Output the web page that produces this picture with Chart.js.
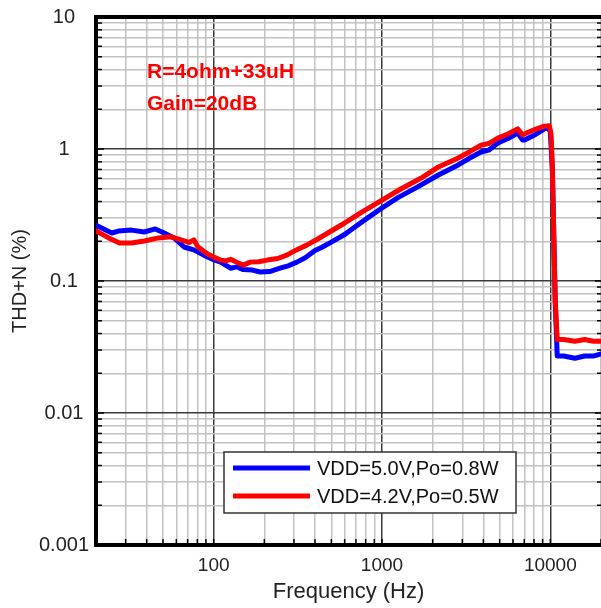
<!DOCTYPE html>
<html>
<head>
<meta charset="utf-8">
<script src="https://cdn.jsdelivr.net/npm/chart.js@4.4.0/dist/chart.umd.min.js"></script>
<style>
  body { margin: 0; background: #fff; }
  #wrap { width: 601px; height: 608px; }
</style>
</head>
<body>
<div id="wrap"><canvas id="myChart" width="601" height="608"></canvas></div>
<script>
// series labels
var seriesNames = ["VDD=5.0V,Po=0.8W", "VDD=4.2V,Po=0.5W"];
var notes = ["R=4ohm+33uH", "Gain=20dB"];

// VDD=5.0V (blue)
var freqBlue = [20, 24.8, 27.2, 32.5, 38.7, 45, 50.8, 58.2, 66.7, 76.2, 87.3, 100, 110, 126, 138, 150, 170, 189, 215, 248, 280, 312, 350, 400, 440, 500, 600, 700, 850, 1000, 1250, 1600, 2163, 2837, 3300, 3875, 4300, 4878, 5600, 6396, 6846, 7032, 8000, 9221, 9700, 10000, 10280, 10690, 10990, 12000, 14000, 16000, 18000, 20000];
var thdBlue = [0.265, 0.231, 0.239, 0.243, 0.235, 0.248, 0.231, 0.212, 0.181, 0.172, 0.157, 0.145, 0.139, 0.125, 0.128, 0.122, 0.121, 0.117, 0.118, 0.125, 0.131, 0.139, 0.15, 0.17, 0.18, 0.197, 0.225, 0.26, 0.31, 0.357, 0.43, 0.51, 0.635, 0.757, 0.85, 0.949, 0.98, 1.11, 1.2, 1.32, 1.17, 1.17, 1.27, 1.42, 1.44, 1.35, 0.7, 0.07, 0.027, 0.027, 0.026, 0.027, 0.027, 0.028];

// VDD=4.2V (red)
var freqRed = [20, 23.8, 27.6, 32.5, 38.7, 46.9, 55.8, 64, 71.3, 76.2, 80.5, 87.3, 92.2, 100, 110, 118, 126, 138, 150, 165, 185, 208, 240, 272, 310, 357, 420, 488, 600, 750, 1000, 1300, 1700, 2163, 2837, 3300, 3875, 4300, 4878, 5600, 6396, 6846, 7500, 8300, 9221, 9863, 10100, 10280, 10690, 10990, 12000, 14000, 16000, 18000, 20000];
var thdRed = [0.24, 0.212, 0.194, 0.194, 0.201, 0.212, 0.216, 0.205, 0.196, 0.205, 0.182, 0.168, 0.16, 0.152, 0.144, 0.142, 0.146, 0.138, 0.132, 0.139, 0.14, 0.144, 0.148, 0.157, 0.172, 0.187, 0.21, 0.235, 0.275, 0.33, 0.41, 0.5, 0.6, 0.731, 0.855, 0.95, 1.07, 1.1, 1.21, 1.3, 1.42, 1.28, 1.35, 1.42, 1.49, 1.5, 1.3, 0.73, 0.072, 0.036, 0.036, 0.035, 0.036, 0.035, 0.035];

var xMin = 20, xMax = 20000;
var yMin = 0.001, yMax = 10;

function pts(xs, ys) {
  var out = [];
  for (var i = 0; i < xs.length; i++) out.push({x: xs[i], y: ys[i]});
  return out;
}

function isDecade(v) {
  var l = Math.log10(v);
  return Math.abs(l - Math.round(l)) < 1e-9;
}

// 1..9 x 10^n ticks between min and max
function logTicks(min, max) {
  var t = [];
  for (var e = Math.floor(Math.log10(min)); e <= Math.ceil(Math.log10(max)); e++) {
    for (var k = 1; k <= 9; k++) {
      var v = Number((k * Math.pow(10, e)).toPrecision(6));
      if (v >= min * 0.9999 && v <= max * 1.0001) t.push({value: v});
    }
  }
  return t;
}

var FONT = "'Liberation Sans', Arial, sans-serif";

var framePlugin = {
  id: 'frame',
  afterDatasetsDraw: function(chart) {
    var ctx = chart.ctx, a = chart.chartArea;
    var xs = chart.scales.x, ys = chart.scales.y;
    ctx.save();
    // inward tick marks
    ctx.strokeStyle = '#000';
    ctx.lineWidth = 1.5;
    ys.ticks.forEach(function(t) {
      var y = ys.getPixelForValue(t.value);
      var len = isDecade(t.value) ? 6 : 4;
      ctx.beginPath(); ctx.moveTo(a.left, y); ctx.lineTo(a.left + len + 2, y); ctx.stroke();
      ctx.beginPath(); ctx.moveTo(a.right, y); ctx.lineTo(a.right - len, y); ctx.stroke();
    });
    xs.ticks.forEach(function(t) {
      var x = xs.getPixelForValue(t.value);
      ctx.beginPath(); ctx.moveTo(x, a.bottom); ctx.lineTo(x, a.bottom - 6); ctx.stroke();
    });
    // top border
    ctx.lineWidth = 4;
    ctx.beginPath(); ctx.moveTo(a.left - 2, a.top); ctx.lineTo(a.right, a.top); ctx.stroke();

    // legend box
    var bx = 224, by = 452, bw = 292, bh = 61;
    ctx.fillStyle = '#fff';
    ctx.fillRect(bx, by, bw, bh);
    ctx.strokeStyle = '#333';
    ctx.lineWidth = 1.5;
    ctx.strokeRect(bx, by, bw, bh);
    ctx.font = '20px ' + FONT;
    ctx.textBaseline = 'middle';
    chart.data.datasets.forEach(function(ds, i) {
      var ly = by + 16 + i * 28;
      ctx.strokeStyle = ds.borderColor;
      ctx.lineWidth = 5;
      ctx.beginPath(); ctx.moveTo(bx + 9, ly); ctx.lineTo(bx + 86, ly); ctx.stroke();
      ctx.fillStyle = '#111';
      ctx.fillText(ds.label, bx + 93, ly + 1);
    });

    // notes
    ctx.fillStyle = '#ff0000';
    ctx.font = 'bold 21px ' + FONT;
    ctx.fillText(notes[0], 147, 72);
    ctx.fillText(notes[1], 147, 104);
    ctx.restore();
  }
};

var ctx = document.getElementById('myChart').getContext('2d');
var chart = new Chart(ctx, {
  type: 'line',
  data: {
    datasets: [{
      label: seriesNames[0],
      data: pts(freqBlue, thdBlue),
      borderColor: '#0000ff',
      borderWidth: 5,
      order: 1
    }, {
      label: seriesNames[1],
      data: pts(freqRed, thdRed),
      borderColor: '#ff0000',
      borderWidth: 5,
      order: 0
    }]
  },
  options: {
    responsive: false,
    animation: false,
    events: [],
    layout: { padding: { top: 17, right: 0, left: 0, bottom: 0 } },
    elements: {
      point: { radius: 0 },
      line: { tension: 0, borderJoinStyle: 'round', borderCapStyle: 'round' }
    },
    plugins: {
      legend: { display: false },
      tooltip: { enabled: false }
    },
    scales: {
      x: {
        type: 'logarithmic',
        min: xMin,
        max: xMax,
        afterBuildTicks: function(s) { s.ticks = logTicks(xMin, xMax); },
        afterFit: function(s) { s.height = 63; s.paddingLeft = 0; s.paddingRight = 0; },
        border: { color: '#000', width: 4 },
        grid: {
          drawTicks: false,
          lineWidth: 1.5,
          color: function(c) { return c.tick && isDecade(c.tick.value) ? '#3a3a3a' : '#c2c2c2'; }
        },
        ticks: {
          autoSkip: false,
          maxRotation: 0,
          padding: 9,
          color: '#222',
          font: { family: FONT, size: 19 },
          callback: function(v) { return isDecade(v) ? String(v) : ''; }
        },
        title: {
          display: true,
          text: 'Frequency (Hz)',
          color: '#222',
          font: { family: FONT, size: 22 },
          padding: { top: 0, bottom: 3 }
        }
      },
      y: {
        type: 'logarithmic',
        min: yMin,
        max: yMax,
        afterBuildTicks: function(s) { s.ticks = logTicks(yMin, yMax); },
        afterFit: function(s) { s.width = 96; s.paddingTop = 0; s.paddingBottom = 0; },
        border: { color: '#000', width: 4 },
        grid: {
          drawTicks: false,
          lineWidth: 1.5,
          color: function(c) { return c.tick && isDecade(c.tick.value) ? '#3a3a3a' : '#c2c2c2'; }
        },
        ticks: {
          autoSkip: false,
          crossAlign: 'center',
          padding: 7,
          color: '#222',
          font: { family: FONT, size: 20 },
          callback: function(v) { return isDecade(v) ? String(v) : ''; }
        },
        title: {
          display: true,
          text: 'THD+N (%)',
          color: '#222',
          font: { family: FONT, size: 20 },
          padding: { top: 8, bottom: 0 }
        }
      }
    }
  },
  plugins: [framePlugin]
});
</script>
</body>
</html>
